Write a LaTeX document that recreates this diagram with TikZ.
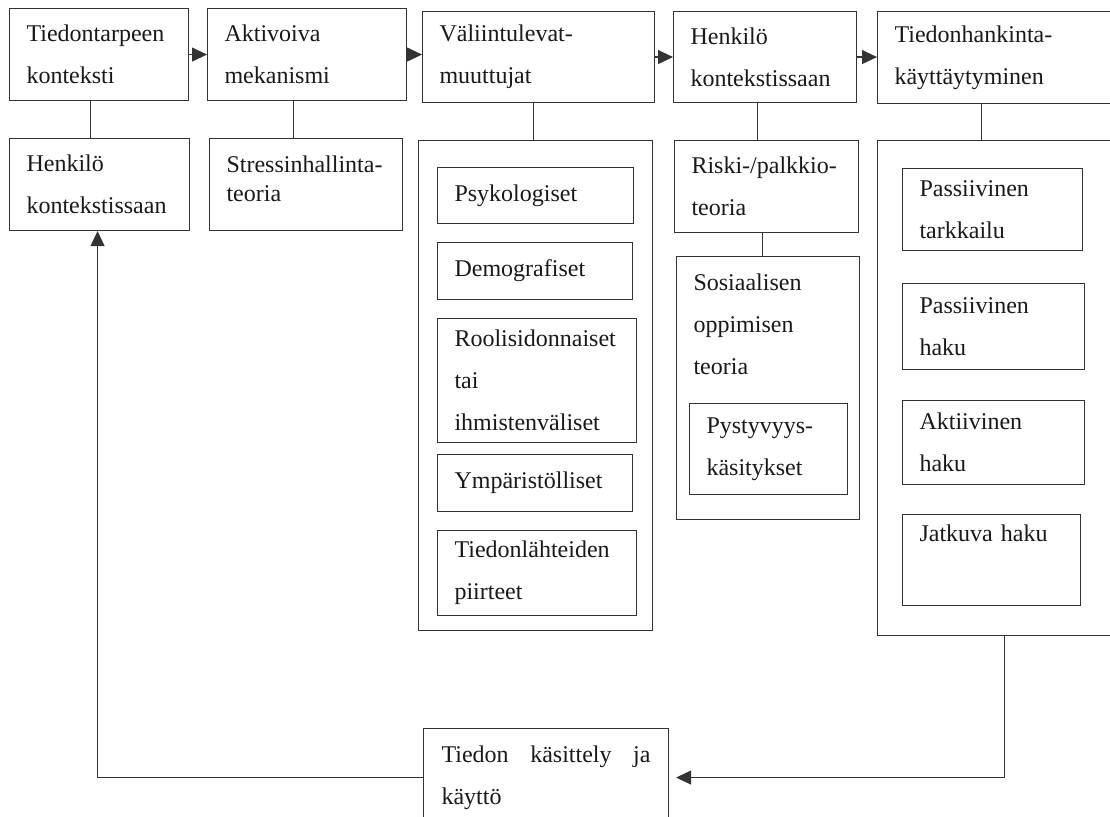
\documentclass[tikz,border=0pt]{standalone}
\usepackage{fontspec}
\setmainfont{Liberation Serif}
\usetikzlibrary{arrows.meta}
\tikzset{
  box/.style={draw=black!80, line width=1.1pt, rectangle, anchor=north west,
    inner xsep=17pt, inner ysep=3pt, align=left, text=black!90,
    font=\fontsize{24}{42}\selectfont},
  arr/.style={draw=black!80, line width=1.1pt, -{Triangle[length=15pt,width=14pt]}},
  link/.style={draw=black!80, line width=1.1pt}
}
\begin{document}
\begin{tikzpicture}[x=1pt,y=-1pt]
  \useasboundingbox (0,0) rectangle (1110,816);
  \clip (0,0) rectangle (1110,816);
  \fill[white] (0,0) rectangle (1110,816);
  \node[box, text width=145pt, minimum height=92pt] (b1) at (9,8) {Tiedontarpeen\\konteksti};
  \node[box, text width=165pt, minimum height=92pt] (b2) at (207,8) {Aktivoiva\\mekanismi};
  \node[box, text width=198pt, minimum height=91pt] (b3) at (422,11) {Väliintulevat-\\muuttujat};
  \node[box, text width=149pt, minimum height=91pt] (b4) at (673,11) {Henkilö\\kontekstissaan};
  \node[box, text width=206pt, minimum height=92pt] (b5) at (877,11) {Tiedonhankinta-\\käyttäytyminen};
  \node[box, text width=146pt, minimum height=92pt] (hk) at (9,138) {Henkilö\\kontekstissaan};
  \node[box, text width=159pt, minimum height=92pt] (st) at (209,138) {};
  \node[box, draw=none, inner sep=0pt, text width=159pt, font=\fontsize{24}{29}\selectfont] (stteksti) at (226,155) {Stressinhallinta-\\teoria};
  \node[box, text width=200pt, minimum height=490pt] (vm) at (418,140) {};
  \node[box, text width=162pt, minimum height=56pt] (psy) at (437,167) {Psykologiset};
  \node[box, text width=161pt, minimum height=57pt] (dem) at (437,242) {Demografiset};
  \node[box, text width=165pt, minimum height=124pt] (rool) at (437,318) {Roolisidonnaiset\\tai\\ihmistenväliset};
  \node[box, text width=161pt, minimum height=57pt] (ymp) at (437,454) {Ympäristölliset};
  \node[box, text width=165pt, minimum height=85pt] (tlp) at (437,530) {Tiedonlähteiden\\piirteet};
  \node[box, text width=150pt, minimum height=92pt] (riski) at (674,140) {Riski-/palkkio-\\teoria};
  \node[box, text width=149pt, minimum height=263pt] (sos) at (676,256) {};
  \node[box, draw=none, inner sep=0pt, text width=149pt] (sosteksti) at (693,273) {Sosiaalisen\\oppimisen\\teoria};
  \node[box, text width=124pt, minimum height=91pt] (pys) at (689,403) {Pystyvyys-\\käsitykset};
  \node[box, text width=206pt, minimum height=495pt] (hb) at (877,140) {};
  \node[box, text width=146pt, minimum height=82pt] (pt) at (902,168) {Passiivinen\\tarkkailu};
  \node[box, text width=148pt, minimum height=86pt] (ph) at (902,283) {Passiivinen\\haku};
  \node[box, text width=148pt, minimum height=84pt] (ah) at (902,400) {Aktiivinen\\haku};
  \node[box, text width=144pt, minimum height=91pt] (jh) at (902,514) {Jatkuva haku\\\strut};
  \node[box, text width=209pt, minimum height=98pt, inner xsep=18pt] (tb) at (423,728) {Tiedon\hfill käsittely\hfill ja\\käyttö};
  \draw[arr] (b1.east) -- (b1.east -| b2.west);
  \draw[arr] (b2.east) -- (b2.east -| b3.west);
  \draw[arr] (b3.east) -- (b3.east -| b4.west);
  \draw[arr] (b4.east) -- (b4.east -| b5.west);
  \draw[link] ([xshift=-8.5pt]b1.south) -- ([xshift=-8.5pt]b1.south |- hk.north);
  \draw[link] ([xshift=-13.5pt]b2.south) -- ([xshift=-13.5pt]b2.south |- st.north);
  \draw[link] ([xshift=-5pt]b3.south) -- ([xshift=-5pt]b3.south |- vm.north);
  \draw[link] ([xshift=-7.5pt]b4.south) -- ([xshift=-7.5pt]b4.south |- riski.north);
  \draw[link] ([xshift=-4pt]riski.south) -- ([xshift=-4pt]riski.south |- sos.north);
  \draw[link] ([xshift=-16pt]b5.south) -- ([xshift=-16pt]b5.south |- hb.north);
  \draw[arr, shorten >=7pt] ([xshift=7pt]hb.south) |- (tb.east);
  \draw[arr] (tb.west) -| ([xshift=-2pt]hk.south);
\end{tikzpicture}
\end{document}
